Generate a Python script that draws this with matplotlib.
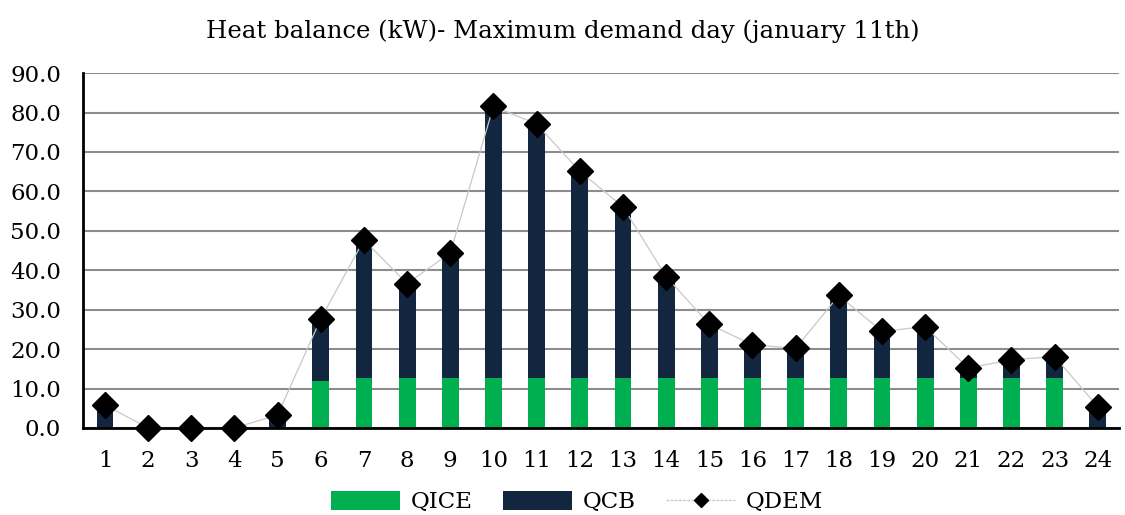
import matplotlib
matplotlib.use("Agg")
import matplotlib.pyplot as plt
from matplotlib.lines import Line2D
from matplotlib.patches import Patch
import numpy as np

plt.rcParams["font.family"] = ["DejaVu Serif"]

HOURS = [str(h) for h in range(1, 25)]
QICE = [0.0, 0.0, 0.0, 0.0, 0.0, 11.8, 12.7, 12.7, 12.7, 12.7, 12.7, 12.7,
        12.7, 12.7, 12.7, 12.7, 12.7, 12.7, 12.7, 12.7, 12.7, 12.7, 12.7, 0.0]
QDEM = [5.8, 0.0, 0.0, 0.0, 3.3, 27.7, 47.7, 36.6, 44.4, 81.6, 77.1, 65.1,
        56.1, 38.4, 26.3, 21.1, 20.2, 33.6, 24.5, 25.7, 15.2, 17.3, 18.1, 5.4]
QCB = [d - i for d, i in zip(QDEM, QICE)]

GREEN = "#00b050"
NAVY = "#13263f"
LINE_GRAY = "#c8c8c8"


def main():
    fig = plt.figure(figsize=(11.25, 5.15), dpi=100)
    ax = fig.add_axes([0.0741, 0.169, 0.9209, 0.689])

    x = np.arange(len(HOURS))
    width = 0.39
    ax.bar(x, QICE, width, color=GREEN, zorder=2)
    ax.bar(x, QCB, width, bottom=QICE, color=NAVY, zorder=2)
    ax.plot(x, QDEM, color=LINE_GRAY, linewidth=0.9, marker="D", markersize=13,
            markerfacecolor="black", markeredgecolor="black",
            zorder=3, clip_on=False)

    ax.set_xlim(-0.5, len(HOURS) - 0.5)
    ax.set_ylim(0, 90)
    ax.set_yticks(np.arange(0, 91, 10))
    ax.set_yticklabels([f"{v:.1f}" for v in np.arange(0, 91, 10)])
    ax.set_xticks(x)
    ax.set_xticklabels(HOURS)
    ax.tick_params(axis="both", length=0, labelsize=16.5)
    ax.tick_params(axis="x", pad=16)
    ax.tick_params(axis="y", pad=16)

    ax.yaxis.grid(True, color="#8c8c8c", linewidth=1.5, zorder=0)
    ax.set_axisbelow(True)
    for side in ["top", "right"]:
        ax.spines[side].set_visible(False)
    for side in ["left", "bottom"]:
        ax.spines[side].set_linewidth(2)
        ax.spines[side].set_color("black")
        ax.spines[side].set_zorder(4)

    fig.suptitle("Heat balance (kW)- Maximum demand day (january 11th)",
                 fontsize=17.6, y=0.962)

    handles = [
        Patch(facecolor=GREEN, label="QICE"),
        Patch(facecolor=NAVY, label="QCB"),
        Line2D([], [], color=LINE_GRAY, linewidth=1, linestyle=(0, (2, 1)),
               marker="D", markersize=7, markerfacecolor="black",
               markeredgecolor="black", label="QDEM"),
    ]
    fig.legend(handles=handles, loc="center", bbox_to_anchor=(0.513, 0.025),
               ncol=3, frameon=False, fontsize=16.5, handlelength=3.0,
               handleheight=0.9, handletextpad=0.45, columnspacing=1.35)

    fig.savefig("out.png", dpi=100)
    plt.close(fig)


if __name__ == "__main__":
    main()
